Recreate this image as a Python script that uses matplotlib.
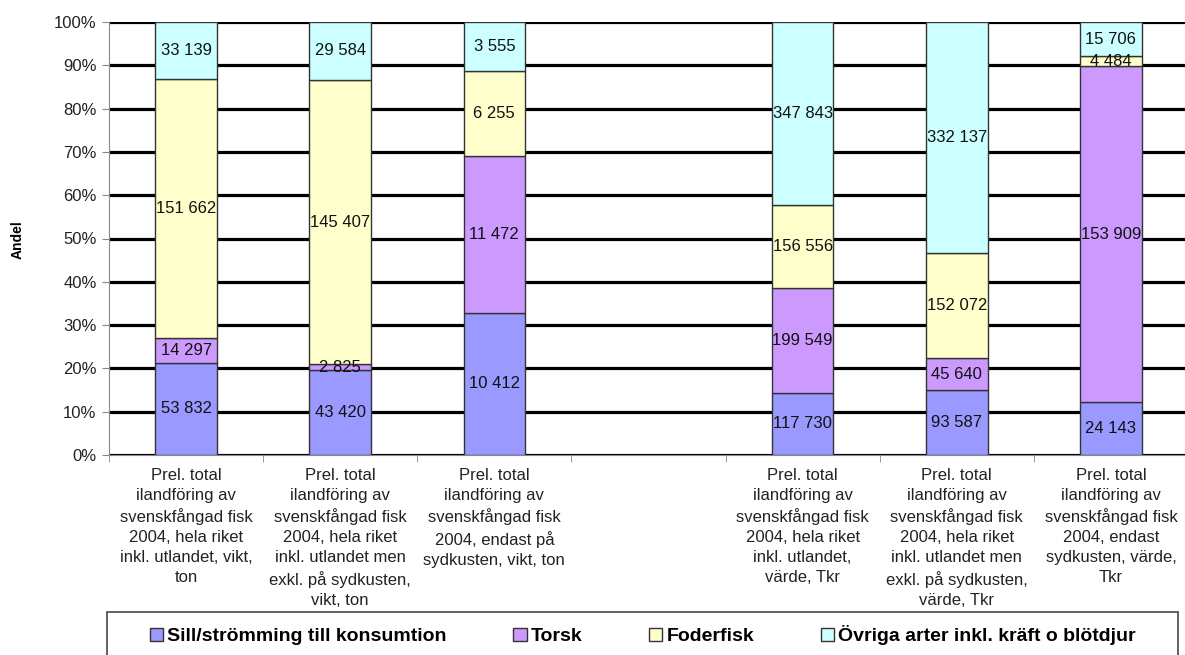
import matplotlib
matplotlib.use("Agg")
import matplotlib.pyplot as plt
import numpy as np
from matplotlib.patches import Rectangle

plt.rcParams['font.family'] = ['Liberation Sans', 'DejaVu Sans']

categories = [
    "Prel. total\nilandföring av\nsvenskfångad fisk\n2004, hela riket\ninkl. utlandet, vikt,\nton",
    "Prel. total\nilandföring av\nsvenskfångad fisk\n2004, hela riket\ninkl. utlandet men\nexkl. på sydkusten,\nvikt, ton",
    "Prel. total\nilandföring av\nsvenskfångad fisk\n2004, endast på\nsydkusten, vikt, ton",
    "",
    "Prel. total\nilandföring av\nsvenskfångad fisk\n2004, hela riket\ninkl. utlandet,\nvärde, Tkr",
    "Prel. total\nilandföring av\nsvenskfångad fisk\n2004, hela riket\ninkl. utlandet men\nexkl. på sydkusten,\nvärde, Tkr",
    "Prel. total\nilandföring av\nsvenskfångad fisk\n2004, endast\nsydkusten, värde,\nTkr",
]
series_names = ["Sill/strömming till konsumtion", "Torsk", "Foderfisk",
                "Övriga arter inkl. kräft o blötdjur"]
sill = [53832, 43420, 10412, 0, 117730, 93587, 24143]
torsk = [14297, 2825, 11472, 0, 199549, 45640, 153909]
foder = [151662, 145407, 6255, 0, 156556, 152072, 4484]
ovriga = [33139, 29584, 3555, 0, 347843, 332137, 15706]
colors = ['#9999ff', '#cc99ff', '#ffffcc', '#ccffff']

data = np.array([sill, torsk, foder, ovriga], dtype=float)
totals = data.sum(axis=0)
totals[totals == 0] = 1
shares = data / totals * 100

fig = plt.figure(figsize=(11.85, 6.55), dpi=100)
ax = fig.add_axes([109/1185, 1 - 455/655, 1079/1185, 433/655])

x = np.arange(len(categories))
bottom = np.zeros(len(categories))
for i in range(4):
    for j in range(len(categories)):
        if data[i, j] == 0:
            continue
        ax.bar(x[j], shares[i, j], 0.4, bottom=bottom[j], color=colors[i],
               edgecolor='#333333', linewidth=1, zorder=3)
        lab = f"{int(data[i, j]):,}".replace(",", " ")
        ax.text(x[j], bottom[j] + shares[i, j] / 2, lab, ha='center',
                va='center', fontsize=12, color='#111111', zorder=4)
    bottom += shares[i]

ax.set_xlim(-0.5, 6.5)
ax.set_ylim(0, 100)
ax.set_yticks(np.arange(0, 101, 10))
ax.set_yticklabels([f"{v}%" for v in range(0, 101, 10)], fontsize=12,
                   color='#222222')
ax.yaxis.grid(True, color='black', linewidth=2.3, zorder=0)
ax.set_axisbelow(True)

ax.set_xticks(x)
ax.set_xticklabels(categories, fontsize=12, linespacing=1.42, color='#222222')
ax.set_xticks(np.arange(-0.5, 7, 1), minor=True)
ax.tick_params(axis='x', which='major', length=0, pad=9)
ax.tick_params(axis='x', which='minor', length=5, color='#888888', direction='out')
ax.tick_params(axis='y', length=5, color='#888888', pad=4)

for s in ['top', 'right']:
    ax.spines[s].set_visible(False)
ax.spines['left'].set_color('#888888')
ax.spines['bottom'].set_color('#888888')

fig.text(18/1185, 1 - 240/655, "Andel", rotation=90, fontsize=10,
         fontweight='bold', ha='center', va='center')

# legend box
fig.patches.append(Rectangle((107/1185, -0.05), 1071/1185, 0.05 + 43/655,
                             transform=fig.transFigure, facecolor='white',
                             edgecolor='#555555', linewidth=1.3))
handles = [Rectangle((0, 0), 1, 1, facecolor=c, edgecolor='#333333') for c in colors]
fig.legend(handles, series_names, loc='center left', ncol=4, frameon=False,
           bbox_to_anchor=(140/1185, 1 - 635/655), borderpad=0,
           prop={'size': 14, 'weight': 'bold'}, handlelength=0.68,
           handleheight=0.68, handletextpad=0.2, columnspacing=3.45)

fig.savefig("out.png", dpi=100)
